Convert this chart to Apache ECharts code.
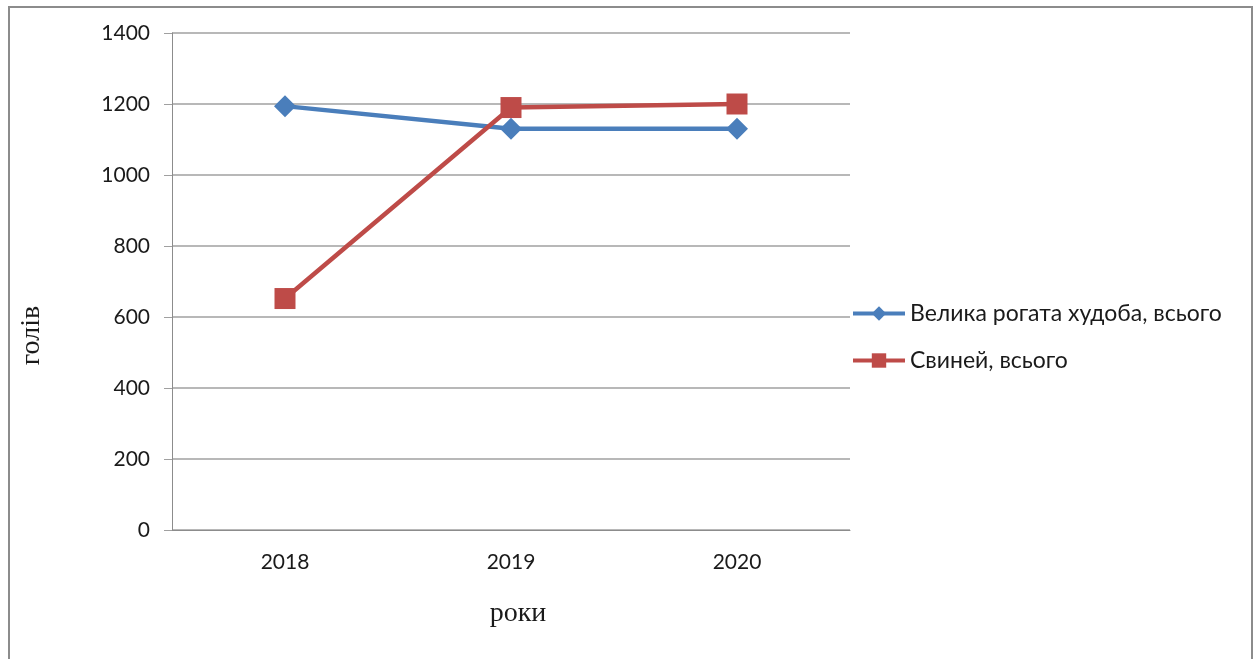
<!DOCTYPE html>
<html>
<head>
<meta charset="utf-8">
<script src="https://cdn.jsdelivr.net/npm/echarts@6/dist/echarts.min.js"></script>
<style>
  html, body { margin: 0; padding: 0; background: #fff; }
  #chart { width: 1256px; height: 659px; }
</style>
</head>
<body>
<div id="chart"></div>
<script>
// data
const years = ['2018', '2019', '2020'];
const cattle = [1194, 1130, 1130];
const pigs = [652, 1190, 1200];
const cattleName = 'Велика рогата худоба, всього';
const pigsName = 'Свиней, всього';

const BLUE = '#4a7ebb';
const RED = '#be4b48';
const GRID_GRAY = '#a0a0a0';
const labelFont = 'Lato, "Noto Sans", sans-serif';

const chart = echarts.init(document.getElementById('chart'), null, {renderer: 'canvas'});

chart.setOption({
  backgroundColor: '#fff',
  animation: false,
  graphic: [{
    type: 'rect',
    shape: {x: 9, y: 7, width: 1243, height: 700},
    style: {fill: 'none', stroke: '#8c8c8c', lineWidth: 2},
    silent: true,
  }],
  grid: {left: 172, right: 406, top: 33, bottom: 129},
  legend: {
    orient: 'vertical',
    left: 851,
    top: 302,
    padding: 0,
    itemWidth: 52,
    itemHeight: 18,
    itemGap: 24,
    lineStyle: {width: 4},
    textStyle: {fontFamily: labelFont, fontSize: 23, color: '#1a1a1a'},
    data: [cattleName, pigsName],
  },
  xAxis: {
    type: 'category',
    data: years,
    boundaryGap: true,
    name: 'роки',
    nameLocation: 'middle',
    nameGap: 70,
    nameTextStyle: {fontFamily: '"Liberation Serif", serif', fontSize: 28, color: '#1a1a1a', padding: [0, 0, 0, 14]},
    axisLine: {lineStyle: {color: '#8c8c8c', width: 1}},
    axisTick: {length: 8, lineStyle: {color: '#8c8c8c'}},
    axisLabel: {fontFamily: labelFont, fontSize: 21, color: '#1a1a1a', margin: 22},
  },
  yAxis: {
    type: 'value',
    min: 0,
    max: 1400,
    interval: 200,
    name: 'голів',
    nameLocation: 'middle',
    nameGap: 126,
    nameRotate: 90,
    nameTextStyle: {fontFamily: '"Liberation Serif", serif', fontSize: 28, color: '#1a1a1a', padding: [0, 108, 0, 0]},
    axisLine: {show: true, lineStyle: {color: '#8c8c8c', width: 1}},
    axisTick: {show: true, length: 8, lineStyle: {color: GRID_GRAY}},
    axisLabel: {fontFamily: labelFont, fontSize: 21, color: '#1a1a1a', margin: 22, formatter: v => String(v)},
    splitLine: {lineStyle: {color: GRID_GRAY, width: 1.5}},
  },
  series: [
    {
      name: cattleName,
      type: 'line',
      data: cattle,
      symbol: 'diamond',
      symbolSize: 22,
      lineStyle: {color: BLUE, width: 4.5},
      itemStyle: {color: BLUE},
    },
    {
      name: pigsName,
      type: 'line',
      data: pigs,
      symbol: 'rect',
      symbolSize: 21,
      lineStyle: {color: RED, width: 4.5},
      itemStyle: {color: RED},
    },
  ],
});
</script>
</body>
</html>
